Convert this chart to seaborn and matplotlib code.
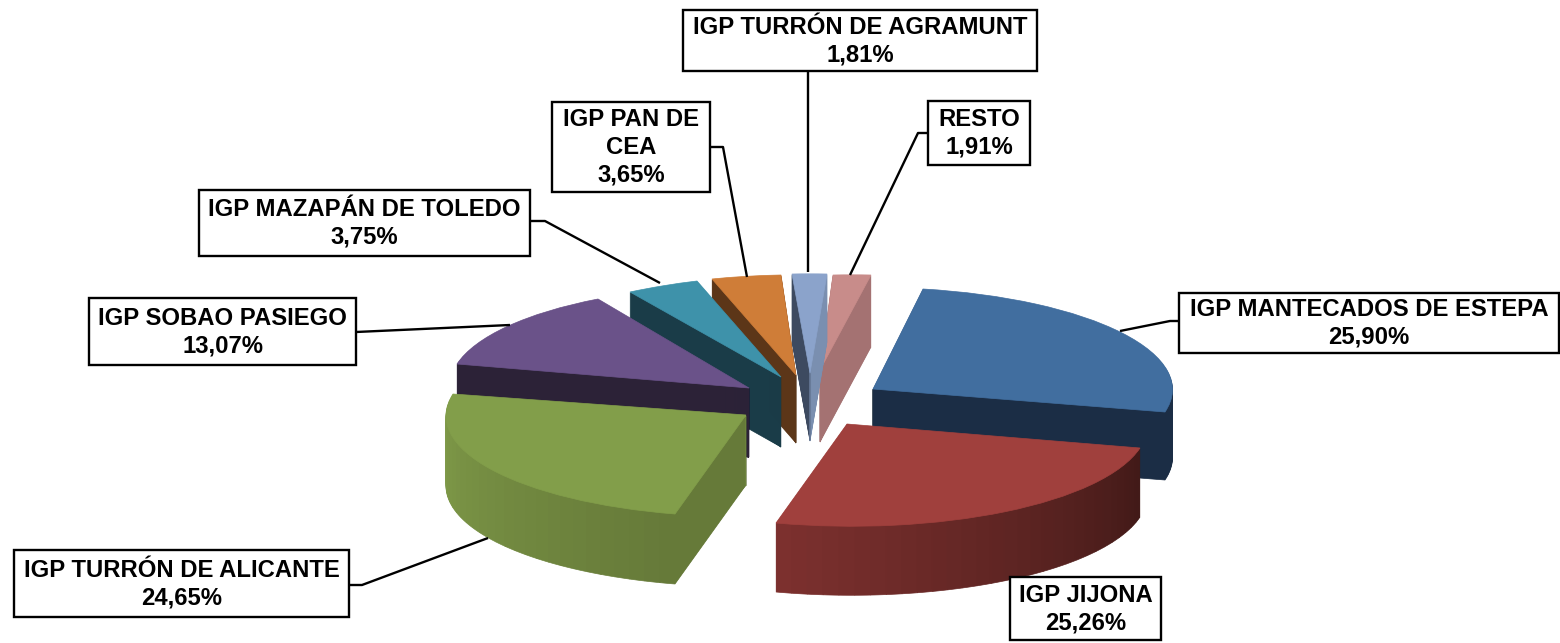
import numpy as np
import matplotlib
matplotlib.use("Agg")
import matplotlib.pyplot as plt
from matplotlib.patches import Rectangle
from matplotlib.transforms import Affine2D
import seaborn as sns

# ---- data (clockwise order of the pie) ----
categories = ["IGP MANTECADOS DE ESTEPA", "IGP JIJONA", "IGP TURRÓN DE ALICANTE",
              "IGP SOBAO PASIEGO", "IGP MAZAPÁN DE TOLEDO", "IGP PAN DE\nCEA",
              "IGP TURRÓN DE AGRAMUNT", "RESTO"]
shares = [25.90, 25.26, 24.65, 13.07, 3.75, 3.65, 1.81, 1.91]
share_labels = ["25,90%", "25,26%", "24,65%", "13,07%", "3,75%", "3,65%", "1,81%", "1,91%"]

# ---- style ----
top_colors = ["#416e9f", "#a0403d", "#829e4a", "#6a5289", "#3e92aa", "#cf7d38", "#8ba3cb", "#c88c8a"]
side_start = ["#1b2d45", "#421a18", "#667a39", "#2c2237", "#1a3c48", "#5c3618", "#3d4a60", "#a47272"]
side_end = ["#1b2d45", "#7c302e", "#829e4a", "#2c2237", "#1a3c48", "#5c3618", "#7a8fb0", "#a47272"]

# ---- layout in pixels: wedge tip, clockwise-start and clockwise-end corners, thickness ----
tips = [(873, 389), (847, 424), (746, 415), (749, 388), (781, 377), (796, 375), (810, 373), (820, 370)]
corner_a = [(923, 289), (1140, 448), (675, 514), (457, 364), (630, 292), (712, 279), (792, 274), (833, 275)]
corner_b = [(1165, 412), (776, 523), (453, 394), (598, 299), (697, 281), (781, 275), (827, 274), (871, 275)]
depths = [68, 69, 70, 69, 70, 68, 68, 72]
draw_order = [7, 6, 5, 4, 3, 0, 2, 1]
start_angle = 77.0

boxes = [(1179, 293, 380, 60), (1010, 577, 151, 63), (14, 550, 335, 67), (89, 298, 267, 67),
         (199, 190, 331, 66), (552, 102, 158, 90), (683, 10, 354, 61), (928, 101, 102, 64)]
leaders = [[(1120, 331), (1170, 321), (1179, 321)], None, [(349, 585), (362, 585), (488, 538)],
           [(356, 332), (510, 325)], [(530, 221), (545, 221), (660, 283)],
           [(710, 147), (723, 147), (747, 277)], [(808, 71), (808, 272)],
           [(928, 133), (918, 133), (850, 275)]]

sns.set_theme(style="white")
plt.rcParams["font.family"] = ["Liberation Sans", "DejaVu Sans"]
fig = plt.figure(figsize=(15.6, 6.43), dpi=100)
ax = fig.add_axes([0, 0, 1, 1])

# angular extents from the data
cum = np.concatenate([[0], np.cumsum(shares)])
total = cum[-1]
theta_a = start_angle - cum[:-1] / total * 360
theta_b = start_angle - cum[1:] / total * 360


def draw_wedge(i, dy, values, colors, z):
    """Pie wedges from the data, projected onto the tilted pie plane."""
    rest = total - sum(values)
    wedges, _ = ax.pie(list(values) + [rest], colors=list(colors) + ["none"],
                       startangle=theta_a[i], counterclock=False, radius=1, center=(0, 0))
    wedges[-1].remove()
    ua = np.deg2rad(theta_a[i]); ub = np.deg2rad(theta_b[i])
    S = np.array([[np.cos(ua), np.cos(ub)], [np.sin(ua), np.sin(ub)]])
    T = np.array(corner_a[i], float) - tips[i], np.array(corner_b[i], float) - tips[i]
    T = np.array(T).T
    M = T @ np.linalg.inv(S)
    aff = Affine2D(np.array([[M[0, 0], M[0, 1], tips[i][0]],
                             [M[1, 0], M[1, 1], tips[i][1] + dy],
                             [0, 0, 1]]))
    for w, c in zip(wedges[:-1], colors):
        w.set_transform(aff + ax.transData)
        w.set_edgecolor(c)
        w.set_linewidth(0.5)
        w.set_zorder(z)
        w.set_clip_on(False)


z = 1.0
for i in draw_order:
    n = max(4, int(shares[i] * 1.2))
    ramp = sns.blend_palette([side_start[i], side_end[i]], n)
    for dy in np.arange(depths[i], 0, -1.0):
        draw_wedge(i, dy, [shares[i] / n] * n, ramp, z)
        z += 0.001
    draw_wedge(i, 0, [shares[i]], [top_colors[i]], z)
    z += 0.001

zl = z + 1
for i, cat in enumerate(categories):
    x, y, w, h = boxes[i]
    if leaders[i] is not None:
        lx, ly = zip(*leaders[i])
        ax.plot(lx, ly, color="black", lw=1.7, zorder=zl, solid_capstyle="butt")
    ax.add_patch(Rectangle((x, y), w, h, facecolor="white", edgecolor="black", lw=1.7, zorder=zl + 1))
    ax.text(x + w / 2, y + h / 2 + 0.5, f"{cat}\n{share_labels[i]}", ha="center", va="center",
            fontsize=17.2, fontweight="bold", color="black", linespacing=1.27, zorder=zl + 2)

ax.set_aspect("auto")
ax.set_xlim(0, 1560)
ax.set_ylim(643, 0)
ax.axis("off")
fig.savefig("out.png", dpi=100, facecolor="white")
